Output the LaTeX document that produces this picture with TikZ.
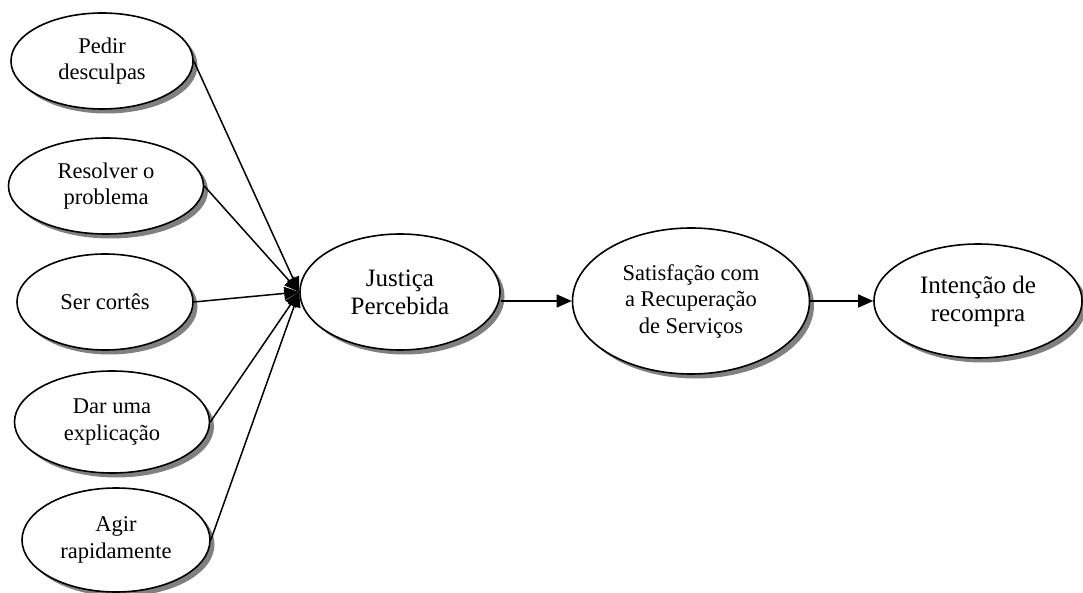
\documentclass[tikz,border=0pt]{standalone}
\usepackage{fontspec}
\setmainfont{Liberation Serif}
\usetikzlibrary{shapes.geometric,shadows,arrows.meta}

\tikzset{
  construct/.style={ellipse, draw=black, line width=1.6pt, fill=white,
    inner sep=0pt, align=center,
    font=\fontsize{22.5}{26.5}\selectfont,
    drop shadow={shadow xshift=4.5pt, shadow yshift=-4.5pt, fill=black!50, opacity=1}},
  bigtext/.style={font=\fontsize{25}{28}\selectfont},
  link/.style={line width=1.5pt, -{Triangle[length=15pt,width=13pt]}}
}

\begin{document}
\begin{tikzpicture}[x=1pt,y=-1pt]
  \useasboundingbox (0,0) rectangle (1083,593);

  % service recovery actions
  \node[construct, minimum width=182pt, minimum height=96pt] (ped) at (102,61) {Pedir\\desculpas};
  \node[construct, minimum width=195pt, minimum height=96pt] (res) at (106,186) {Resolver o\\problema};
  \node[construct, minimum width=176pt, minimum height=96pt] (cor) at (105,302) {Ser cortês};
  \node[construct, minimum width=195pt, minimum height=102pt] (exp) at (112,422) {Dar uma\\explicação};
  \node[construct, minimum width=188pt, minimum height=104pt] (agi) at (116,540) {Agir\\rapidamente};

  % outcome chain
  \node[construct, bigtext, minimum width=200pt, minimum height=116pt] (jus) at (400,292) {Justiça\\Percebida};
  \node[construct, minimum width=237pt, minimum height=146pt] (sat) at (691,301) {Satisfação com\\a Recuperação\\de Serviços};
  \node[construct, bigtext, minimum width=208pt, minimum height=114pt] (int) at (978,301) {Intenção de\\recompra};

  % influences on perceived justice
  \foreach \src in {ped,res,cor,exp,agi}
    \draw[link] (\src.east) -- (jus.west);

  \draw[link] (sat.west -| jus.east) -- (sat.west);
  \draw[link] (sat.east) -- (int.west);
\end{tikzpicture}
\end{document}
